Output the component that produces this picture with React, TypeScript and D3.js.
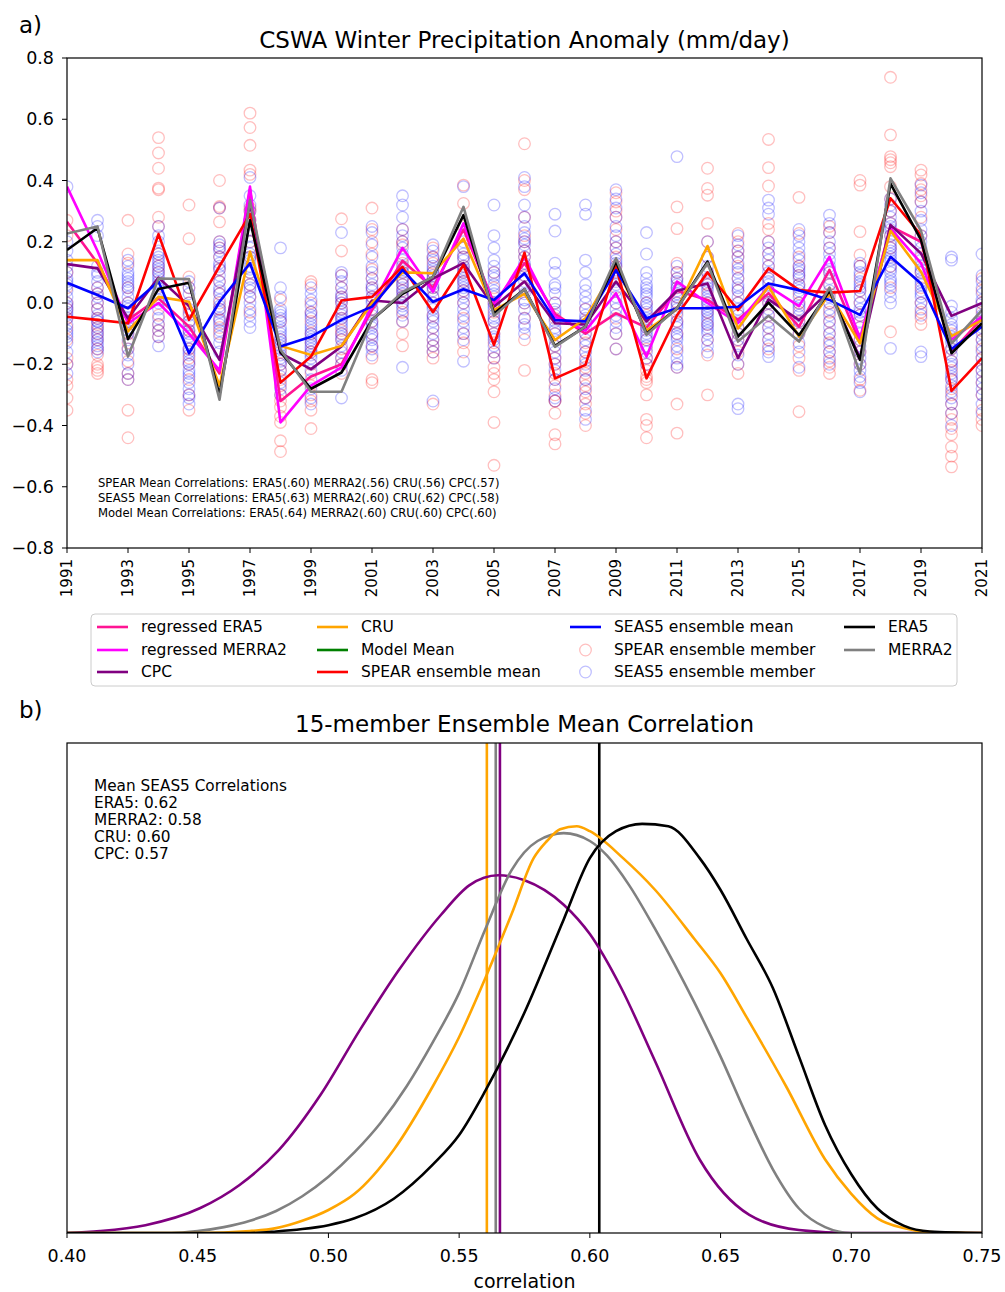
import React from "react";
import * as d3 from "d3";

// ---------- Panel a data ----------
const years = [1991, 1992, 1993, 1994, 1995, 1996, 1997, 1998, 1999, 2000, 2001, 2002, 2003, 2004, 2005, 2006, 2007, 2008, 2009, 2010, 2011, 2012, 2013, 2014, 2015, 2016, 2017, 2018, 2019, 2020, 2021];
const yearTicks = [1991, 1993, 1995, 1997, 1999, 2001, 2003, 2005, 2007, 2009, 2011, 2013, 2015, 2017, 2019, 2021];
const anomalyTicks = [0.8, 0.6, 0.4, 0.2, 0.0, -0.2, -0.4, -0.6, -0.8];

const era5 = [0.173, 0.245, -0.118, 0.046, 0.066, -0.3, 0.27, -0.16, -0.28, -0.227, -0.055, 0.03, 0.085, 0.287, -0.034, 0.045, -0.14, -0.077, 0.135, -0.1, -0.017, 0.135, -0.11, 0.001, -0.105, 0.04, -0.186, 0.39, 0.206, -0.164, -0.066];
const merra2 = [0.227, 0.25, -0.175, 0.08, 0.078, -0.316, 0.336, -0.153, -0.29, -0.29, -0.055, 0.035, 0.085, 0.314, -0.042, 0.045, -0.143, -0.077, 0.146, -0.104, -0.017, 0.13, -0.126, -0.042, -0.126, 0.05, -0.23, 0.407, 0.236, -0.132, -0.023];
const cru = [0.14, 0.14, -0.093, 0.02, 0.004, -0.27, 0.167, -0.14, -0.17, -0.14, 0.0, 0.1, 0.097, 0.21, -0.023, 0.03, -0.121, -0.05, 0.12, -0.09, -0.02, 0.186, -0.083, 0.054, -0.11, 0.03, -0.132, 0.236, 0.102, -0.108, -0.056];
const cpc = [0.127, 0.113, -0.05, 0.083, -0.01, -0.186, 0.325, -0.164, -0.216, -0.142, 0.008, 0.0, 0.08, 0.13, -0.012, 0.07, -0.066, -0.07, 0.07, -0.06, 0.04, 0.064, -0.18, 0.012, -0.056, 0.04, -0.18, 0.255, 0.162, -0.042, 0.0];
const regEra5 = [0.265, 0.13, -0.055, 0.015, -0.077, -0.23, 0.37, -0.32, -0.24, -0.2, -0.023, 0.138, 0.05, 0.24, 0.0, 0.13, -0.035, -0.1, -0.034, -0.08, 0.04, 0.01, -0.055, 0.032, -0.077, 0.108, -0.13, 0.25, 0.2, -0.16, -0.05];
const regMerra2 = [0.38, 0.17, -0.066, 0.0, -0.1, -0.22, 0.38, -0.39, -0.27, -0.21, -0.01, 0.18, 0.037, 0.26, -0.01, 0.15, -0.045, -0.09, 0.032, -0.175, 0.07, 0.0, -0.066, 0.054, -0.01, 0.151, -0.115, 0.244, 0.13, -0.12, -0.045];
const spearMean = [-0.045, -0.055, -0.066, 0.225, -0.055, 0.12, 0.29, -0.26, -0.175, 0.008, 0.02, 0.118, -0.03, 0.124, -0.137, 0.164, -0.246, -0.202, 0.119, -0.246, -0.04, 0.1, -0.023, 0.113, 0.042, 0.034, 0.039, 0.342, 0.222, -0.287, -0.18];
const seas5Mean = [0.066, 0.026, -0.017, 0.07, -0.164, 0.004, 0.13, -0.142, -0.11, -0.055, -0.012, 0.108, 0.004, 0.045, 0.01, 0.097, -0.056, -0.06, 0.107, -0.05, -0.017, -0.017, -0.012, 0.064, 0.042, 0.01, -0.039, 0.151, 0.064, -0.15, -0.077];

const spearMembers = [
  [0.27, 0.22, 0.05, 0.0, -0.02, -0.05, -0.08, -0.12, -0.18, -0.2, -0.25, -0.27, -0.31, -0.35, 0.1],
  [0.03, -0.02, -0.05, -0.07, -0.1, -0.12, -0.15, -0.17, -0.2, -0.21, -0.22, -0.23, 0.0, -0.08, 0.05],
  [0.27, 0.16, 0.13, 0.05, 0.0, -0.03, -0.06, -0.1, -0.13, -0.15, -0.19, -0.23, -0.25, -0.35, -0.44],
  [0.54, 0.49, 0.44, 0.375, 0.37, 0.28, 0.25, 0.16, 0.12, 0.1, 0.02, -0.04, -0.07, -0.09, -0.11],
  [0.32, 0.21, 0.085, 0.05, 0.0, -0.03, -0.06, -0.09, -0.12, -0.15, -0.18, -0.2, -0.25, -0.3, -0.35],
  [0.4, 0.315, 0.31, 0.265, 0.2, 0.15, 0.11, 0.07, 0.03, -0.02, -0.055, -0.08, -0.1, 0.18, 0.0],
  [0.62, 0.573, 0.515, 0.434, 0.42, 0.31, 0.3, 0.27, 0.24, 0.2, 0.15, 0.1, 0.06, 0.02, -0.03],
  [0.01, -0.06, -0.12, -0.16, -0.2, -0.22, -0.25, -0.27, -0.3, -0.32, -0.34, -0.37, -0.39, -0.45, -0.485],
  [0.07, 0.06, 0.0, -0.03, -0.06, -0.1, -0.13, -0.16, -0.2, -0.23, -0.27, -0.3, -0.32, -0.35, -0.41],
  [0.275, 0.17, 0.09, 0.05, 0.02, -0.02, -0.05, -0.09, -0.12, -0.15, -0.18, -0.2, -0.23, -0.1, 0.0],
  [0.31, 0.24, 0.2, 0.16, 0.11, 0.08, 0.05, 0.02, -0.02, -0.06, -0.1, -0.14, -0.18, -0.25, -0.26],
  [0.24, 0.2, 0.19, 0.15, 0.13, 0.1, 0.08, 0.06, 0.04, 0.02, 0.0, -0.03, -0.06, -0.1, -0.14],
  [0.18, 0.15, 0.13, 0.1, 0.08, 0.05, 0.02, 0.0, -0.04, -0.08, -0.12, -0.14, -0.16, -0.18, -0.33],
  [0.385, 0.325, 0.25, 0.22, 0.18, 0.15, 0.12, 0.1, 0.07, 0.04, 0.0, -0.05, -0.1, -0.13, -0.16],
  [0.1, 0.05, 0.0, -0.03, -0.06, -0.1, -0.13, -0.16, -0.18, -0.21, -0.23, -0.25, -0.29, -0.39, -0.53],
  [0.52, 0.4, 0.37, 0.28, 0.22, 0.2, 0.17, 0.15, 0.12, 0.09, 0.05, 0.0, -0.05, -0.12, -0.22],
  [0.0, -0.05, -0.1, -0.14, -0.18, -0.2, -0.23, -0.25, -0.27, -0.3, -0.32, -0.32, -0.36, -0.43, -0.46],
  [-0.02, -0.06, -0.1, -0.13, -0.16, -0.19, -0.21, -0.23, -0.25, -0.27, -0.29, -0.31, -0.33, -0.36, -0.4],
  [0.36, 0.33, 0.3, 0.28, 0.24, 0.2, 0.18, 0.15, 0.12, 0.1, 0.05, 0.0, -0.05, -0.1, -0.15],
  [0.0, -0.04, -0.08, -0.12, -0.15, -0.18, -0.2, -0.22, -0.24, -0.25, -0.26, -0.3, -0.38, -0.4, -0.44],
  [0.314, 0.243, 0.13, 0.1, 0.08, 0.05, 0.02, 0.0, -0.03, -0.06, -0.1, -0.15, -0.21, -0.33, -0.425],
  [0.44, 0.374, 0.352, 0.26, 0.2, 0.15, 0.1, 0.06, 0.03, 0.0, -0.03, -0.07, -0.12, -0.17, -0.3],
  [0.227, 0.2, 0.17, 0.15, 0.12, 0.08, 0.04, 0.0, -0.04, -0.08, -0.12, -0.16, -0.2, -0.23, -0.1],
  [0.534, 0.442, 0.382, 0.26, 0.24, 0.2, 0.16, 0.12, 0.08, 0.04, 0.0, -0.04, -0.08, -0.12, -0.15],
  [0.345, 0.227, 0.15, 0.12, 0.09, 0.06, 0.03, 0.0, -0.03, -0.06, -0.1, -0.14, -0.18, -0.22, -0.355],
  [0.25, 0.23, 0.18, 0.1, 0.06, 0.03, 0.0, -0.03, -0.06, -0.1, -0.13, -0.16, -0.19, -0.21, -0.23],
  [0.4, 0.385, 0.233, 0.157, 0.12, 0.08, 0.04, 0.0, -0.04, -0.08, -0.12, -0.16, -0.2, -0.25, -0.285],
  [0.737, 0.549, 0.478, 0.468, 0.458, 0.445, 0.38, 0.34, 0.3, 0.26, 0.22, 0.18, 0.12, 0.05, -0.094],
  [0.434, 0.418, 0.39, 0.37, 0.35, 0.33, 0.28, 0.22, 0.15, 0.1, 0.05, 0.0, -0.03, -0.05, -0.07],
  [-0.1, -0.15, -0.19, -0.22, -0.25, -0.28, -0.3, -0.33, -0.36, -0.38, -0.41, -0.43, -0.47, -0.5, -0.535],
  [0.08, 0.04, 0.0, -0.03, -0.06, -0.09, -0.12, -0.15, -0.18, -0.22, -0.26, -0.3, -0.35, -0.38, -0.4],
];

const seas5Members = [
  [0.38, 0.2, 0.17, 0.12, 0.1, 0.08, 0.06, 0.04, 0.02, 0.0, -0.02, -0.03, -0.05, -0.07, -0.09, -0.1, -0.13, -0.16, -0.2, -0.23, 0.14, 0.07, -0.01, -0.04, -0.11],
  [0.27, 0.25, 0.22, 0.12, 0.1, 0.09, 0.07, 0.05, 0.03, 0.02, 0.0, -0.02, -0.04, -0.05, -0.06, -0.08, -0.09, -0.1, -0.11, -0.12, -0.13, -0.14, -0.15, -0.16, -0.06],
  [0.14, 0.12, 0.1, 0.09, 0.08, 0.06, 0.05, 0.04, 0.02, 0.0, -0.01, -0.03, -0.05, -0.06, -0.08, -0.1, -0.12, -0.15, -0.17, -0.2, -0.23, -0.25, 0.07, -0.02, -0.09],
  [0.25, 0.22, 0.2, 0.17, 0.16, 0.15, 0.14, 0.13, 0.12, 0.11, 0.1, 0.09, 0.08, 0.07, 0.06, 0.05, 0.03, 0.01, -0.02, -0.05, -0.07, -0.09, -0.11, -0.14, 0.0],
  [0.07, 0.05, 0.03, 0.0, -0.02, -0.04, -0.07, -0.09, -0.11, -0.13, -0.15, -0.17, -0.19, -0.2, -0.22, -0.24, -0.26, -0.28, -0.3, -0.31, -0.33, -0.1, -0.16, -0.23, -0.06],
  [0.31, 0.2, 0.19, 0.18, 0.17, 0.15, 0.13, 0.11, 0.09, 0.07, 0.05, 0.03, 0.01, -0.01, -0.03, -0.05, -0.07, -0.09, -0.11, -0.13, -0.16, 0.12, -0.02, 0.04, -0.06],
  [0.41, 0.35, 0.32, 0.3, 0.27, 0.24, 0.22, 0.2, 0.18, 0.16, 0.14, 0.12, 0.1, 0.08, 0.06, 0.04, 0.02, 0.0, -0.02, -0.04, -0.06, -0.08, 0.15, 0.05, 0.11],
  [0.18, 0.05, 0.02, -0.02, -0.04, -0.06, -0.08, -0.1, -0.11, -0.13, -0.15, -0.17, -0.19, -0.2, -0.22, -0.24, -0.26, -0.28, -0.3, -0.12, -0.05, -0.14, -0.09, -0.18, -0.03],
  [0.05, 0.03, 0.01, -0.01, -0.03, -0.05, -0.07, -0.09, -0.1, -0.11, -0.12, -0.13, -0.14, -0.16, -0.18, -0.2, -0.22, -0.25, -0.28, -0.31, -0.33, -0.08, -0.15, -0.04, -0.17],
  [0.23, 0.1, 0.09, 0.07, 0.05, 0.03, 0.02, 0.0, -0.02, -0.03, -0.05, -0.07, -0.08, -0.1, -0.12, -0.14, -0.16, -0.18, -0.2, -0.22, -0.31, -0.04, -0.11, 0.01, -0.06],
  [0.25, 0.23, 0.19, 0.15, 0.12, 0.1, 0.08, 0.06, 0.04, 0.02, 0.0, -0.02, -0.04, -0.06, -0.08, -0.1, -0.12, -0.14, -0.15, -0.17, 0.05, 0.01, -0.03, -0.07, -0.11],
  [0.35, 0.32, 0.28, 0.24, 0.22, 0.2, 0.18, 0.16, 0.14, 0.12, 0.1, 0.08, 0.07, 0.06, 0.05, 0.04, 0.02, 0.0, -0.02, -0.04, -0.06, -0.21, 0.11, 0.03, -0.01],
  [0.19, 0.17, 0.15, 0.14, 0.12, 0.1, 0.09, 0.08, 0.06, 0.04, 0.02, 0.0, -0.02, -0.04, -0.06, -0.08, -0.1, -0.12, -0.14, -0.16, -0.32, 0.05, -0.01, 0.11, -0.05],
  [0.38, 0.2, 0.18, 0.16, 0.15, 0.14, 0.12, 0.11, 0.1, 0.08, 0.07, 0.06, 0.05, 0.03, 0.02, 0.0, -0.02, -0.04, -0.06, -0.08, -0.1, -0.12, -0.19, 0.09, 0.04],
  [0.32, 0.22, 0.18, 0.14, 0.12, 0.1, 0.08, 0.06, 0.04, 0.02, 0.0, -0.02, -0.04, -0.06, -0.08, -0.1, -0.12, -0.14, -0.16, -0.18, 0.09, 0.03, -0.01, -0.05, -0.11],
  [0.41, 0.38, 0.32, 0.28, 0.25, 0.23, 0.21, 0.19, 0.17, 0.15, 0.13, 0.11, 0.09, 0.07, 0.05, 0.03, 0.01, -0.02, -0.05, -0.08, -0.1, 0.2, 0.12, 0.0, -0.07],
  [0.29, 0.235, 0.13, 0.1, 0.06, 0.03, 0.0, -0.02, -0.04, -0.06, -0.08, -0.1, -0.12, -0.14, -0.16, -0.18, -0.2, -0.22, -0.25, -0.28, -0.31, -0.32, 0.05, -0.03, -0.09],
  [0.32, 0.29, 0.14, 0.1, 0.06, 0.04, 0.02, 0.0, -0.02, -0.04, -0.06, -0.08, -0.1, -0.12, -0.14, -0.16, -0.18, -0.2, -0.22, -0.25, -0.28, -0.31, -0.35, -0.38, -0.05],
  [0.37, 0.34, 0.31, 0.28, 0.25, 0.22, 0.2, 0.18, 0.16, 0.14, 0.12, 0.1, 0.08, 0.06, 0.04, 0.02, 0.0, -0.02, -0.04, -0.06, -0.08, -0.1, -0.15, 0.13, 0.07],
  [0.23, 0.16, 0.1, 0.08, 0.06, 0.04, 0.02, 0.0, -0.02, -0.03, -0.05, -0.06, -0.08, -0.09, -0.1, -0.12, -0.14, -0.16, -0.18, -0.2, -0.01, 0.03, -0.07, -0.11, 0.05],
  [0.478, 0.12, 0.1, 0.08, 0.07, 0.06, 0.04, 0.02, 0.0, -0.02, -0.04, -0.06, -0.08, -0.1, -0.12, -0.14, -0.16, -0.18, -0.2, -0.21, 0.05, -0.01, -0.07, 0.03, -0.11],
  [0.2, 0.15, 0.12, 0.1, 0.08, 0.06, 0.05, 0.04, 0.02, 0.0, -0.01, -0.02, -0.04, -0.05, -0.06, -0.08, -0.09, -0.1, -0.12, -0.14, -0.16, 0.07, 0.01, -0.03, -0.07],
  [0.22, 0.19, 0.17, 0.15, 0.13, 0.11, 0.1, 0.08, 0.06, 0.04, 0.02, 0.0, -0.02, -0.04, -0.06, -0.08, -0.1, -0.12, -0.14, -0.17, -0.2, -0.33, -0.345, 0.05, -0.03],
  [0.336, 0.31, 0.29, 0.2, 0.18, 0.16, 0.14, 0.12, 0.1, 0.08, 0.06, 0.04, 0.02, 0.0, -0.02, -0.04, -0.06, -0.08, -0.1, -0.12, -0.14, -0.16, -0.175, 0.07, 0.03],
  [0.24, 0.22, 0.2, 0.18, 0.16, 0.14, 0.12, 0.1, 0.08, 0.06, 0.04, 0.02, 0.0, -0.02, -0.04, -0.06, -0.08, -0.1, -0.13, -0.16, -0.21, 0.11, 0.05, -0.01, 0.09],
  [0.287, 0.26, 0.23, 0.2, 0.18, 0.16, 0.14, 0.12, 0.1, 0.08, 0.06, 0.04, 0.02, 0.0, -0.02, -0.04, -0.06, -0.08, -0.1, -0.12, -0.14, -0.16, -0.18, -0.2, 0.11],
  [0.13, 0.12, 0.1, 0.09, 0.07, 0.05, 0.04, 0.02, 0.0, -0.02, -0.04, -0.06, -0.08, -0.1, -0.12, -0.14, -0.16, -0.18, -0.2, -0.22, -0.24, -0.26, -0.29, 0.06, -0.03],
  [0.34, 0.32, 0.3, 0.28, 0.26, 0.24, 0.22, 0.2, 0.19, 0.18, 0.16, 0.14, 0.12, 0.1, 0.08, 0.06, 0.04, 0.02, 0.0, -0.148, 0.15, 0.11, 0.25, 0.17, 0.07],
  [0.385, 0.36, 0.33, 0.3, 0.27, 0.24, 0.22, 0.2, 0.18, 0.16, 0.14, 0.12, 0.1, 0.08, 0.06, 0.04, 0.02, 0.0, -0.02, -0.04, -0.16, -0.175, 0.11, 0.07, 0.03],
  [0.15, 0.14, -0.01, -0.03, -0.05, -0.07, -0.09, -0.11, -0.13, -0.15, -0.17, -0.19, -0.21, -0.23, -0.25, -0.27, -0.29, -0.31, -0.33, -0.36, -0.4, -0.12, -0.2, -0.24, -0.08],
  [0.16, 0.09, 0.07, 0.05, 0.03, 0.01, 0.0, -0.02, -0.04, -0.06, -0.08, -0.1, -0.12, -0.14, -0.16, -0.18, -0.2, -0.22, -0.24, -0.26, -0.28, -0.3, -0.33, -0.36, -0.05],
];

const corrNotes = [
  "SPEAR Mean Correlations: ERA5(.60) MERRA2(.56) CRU(.56) CPC(.57)",
  "SEAS5 Mean Correlations: ERA5(.63) MERRA2(.60) CRU(.62) CPC(.58)",
  "Model Mean Correlations: ERA5(.64) MERRA2(.60) CRU(.60) CPC(.60)",
];

// ---------- Panel b data ----------
const corrTicks = [0.4, 0.45, 0.5, 0.55, 0.6, 0.65, 0.7, 0.75];
const cpcCorr = [0.4, 0.4126, 0.43, 0.451, 0.466, 0.481, 0.497, 0.512, 0.527, 0.543, 0.554, 0.565, 0.575, 0.59, 0.6, 0.612, 0.625, 0.642, 0.661, 0.68, 0.7, 0.75];
const cpcDens = [0, 0.004, 0.016, 0.051, 0.098, 0.169, 0.282, 0.414, 0.537, 0.649, 0.71, 0.73, 0.72, 0.67, 0.61, 0.5, 0.35, 0.15, 0.037, 0.006, 0.0, 0];
const merraCorr = [0.4, 0.44, 0.45, 0.46, 0.47, 0.48, 0.49, 0.5, 0.51, 0.52, 0.53, 0.54, 0.55, 0.56, 0.57, 0.58, 0.59, 0.6, 0.6066, 0.615, 0.625, 0.64, 0.65, 0.66, 0.67, 0.68, 0.69, 0.7, 0.75];
const merraDens = [0, 0.0, 0.004, 0.012, 0.025, 0.045, 0.075, 0.115, 0.165, 0.225, 0.3, 0.39, 0.49, 0.62, 0.74, 0.8, 0.816, 0.8, 0.77, 0.71, 0.62, 0.47, 0.36, 0.24, 0.13, 0.05, 0.012, 0.0, 0];
const cruCorr = [0.4, 0.45, 0.47, 0.48, 0.49, 0.5, 0.51, 0.525, 0.54, 0.55, 0.56, 0.57, 0.5785, 0.5836, 0.5886, 0.595, 0.6, 0.6127, 0.625, 0.64, 0.65, 0.66, 0.675, 0.69, 0.7, 0.71, 0.72, 0.73, 0.75];
const cruDens = [0, 0, 0.004, 0.01, 0.025, 0.047, 0.08, 0.17, 0.3, 0.4, 0.52, 0.65, 0.765, 0.8, 0.824, 0.83, 0.82, 0.765, 0.7, 0.6, 0.53, 0.44, 0.3, 0.15, 0.08, 0.03, 0.01, 0.002, 0];
const era5Corr = [0.4, 0.47, 0.48, 0.49, 0.5, 0.51, 0.525, 0.54, 0.55, 0.56, 0.575, 0.59, 0.6, 0.61, 0.62, 0.63, 0.642, 0.65, 0.66, 0.67, 0.68, 0.69, 0.7, 0.71, 0.72, 0.73, 0.75];
const era5Dens = [0, 0, 0.003, 0.008, 0.016, 0.03, 0.07, 0.14, 0.2, 0.29, 0.45, 0.64, 0.765, 0.82, 0.835, 0.83, 0.765, 0.7, 0.6, 0.5, 0.36, 0.22, 0.12, 0.05, 0.015, 0.003, 0];
const meanLines = [
  { name: "CRU", value: 0.5606, color: "#ffa500" },
  { name: "MERRA2", value: 0.564, color: "#808080" },
  { name: "CPC", value: 0.5656, color: "#800080" },
  { name: "ERA5", value: 0.6036, color: "#000000" },
];
const seas5Notes = ["Mean SEAS5 Correlations", "ERA5: 0.62", "MERRA2: 0.58", "CRU: 0.60", "CPC: 0.57"];

const FONT = "'DejaVu Sans', sans-serif";
const fmtTick = (t: number) => (t < 0 ? "\u2212" + Math.abs(t).toFixed(1) : t.toFixed(1));

export default function App() {
  const W = 1005, H = 1292;
  // panel a
  const aL = 67, aR = 982, aT = 58, aB = 548;
  const x = d3.scaleLinear().domain([1991, 2021]).range([aL, aR]);
  const y = d3.scaleLinear().domain([-0.8, 0.8]).range([aB, aT]);
  const lineGen = (vals: number[]) =>
    d3.line<number>().x((_, i) => x(years[i])).y((v) => y(v))(vals) || "";

  const seriesLines = [
    { vals: regEra5, color: "#ff1493" },
    { vals: regMerra2, color: "#ff00ff" },
    { vals: cpc, color: "#800080" },
    { vals: cru, color: "#ffa500" },
    { vals: spearMean, color: "#ff0000" },
    { vals: seas5Mean, color: "#0000ff" },
    { vals: era5, color: "#000000" },
    { vals: merra2, color: "#808080" },
  ];

  // panel b
  const bL = 67, bR = 982, bT = 743, bB = 1233;
  const cx = d3.scaleLinear().domain([0.4, 0.75]).range([bL, bR]);
  const cy = d3.scaleLinear().domain([0, 1]).range([bB, bT]);
  const dens = (xs: number[], ds: number[]) =>
    d3.line<number>().x((v) => cx(v)).y((_, i) => cy(ds[i])).curve(d3.curveMonotoneX)(xs) || "";
  const densCurves = [
    { xs: cpcCorr, ds: cpcDens, color: "#800080" },
    { xs: merraCorr, ds: merraDens, color: "#808080" },
    { xs: cruCorr, ds: cruDens, color: "#ffa500" },
    { xs: era5Corr, ds: era5Dens, color: "#000000" },
  ];

  const legendCols = [
    [
      { label: "regressed ERA5", color: "#ff1493", kind: "line" },
      { label: "regressed MERRA2", color: "#ff00ff", kind: "line" },
      { label: "CPC", color: "#800080", kind: "line" },
    ],
    [
      { label: "CRU", color: "#ffa500", kind: "line" },
      { label: "Model Mean", color: "#008000", kind: "line" },
      { label: "SPEAR ensemble mean", color: "#ff0000", kind: "line" },
    ],
    [
      { label: "SEAS5 ensemble mean", color: "#0000ff", kind: "line" },
      { label: "SPEAR ensemble member", color: "rgba(255,0,0,0.25)", kind: "circle" },
      { label: "SEAS5 ensemble member", color: "rgba(0,0,255,0.25)", kind: "circle" },
    ],
    [
      { label: "ERA5", color: "#000000", kind: "line" },
      { label: "MERRA2", color: "#808080", kind: "line" },
    ],
  ];
  const colX = [97, 317, 570, 844];
  const rowY = [627, 650, 672];

  return (
    <svg width={W} height={H} style={{ position: "absolute", left: 0, top: 0, background: "#fff" }} fontFamily={FONT}>
      <rect x={0} y={0} width={W} height={H} fill="#fff" />
      <defs>
        <clipPath id="clipA">
          <rect x={aL} y={aT} width={aR - aL} height={aB - aT} />
        </clipPath>
        <clipPath id="clipB">
          <rect x={bL} y={bT} width={bR - bL} height={bB - bT} />
        </clipPath>
      </defs>

      {/* ---------- Panel a ---------- */}
      <text x={19} y={33} fontSize={23} fill="#000">a)</text>
      <text x={(aL + aR) / 2} y={48} fontSize={23} textAnchor="middle" fill="#000">
        CSWA Winter Precipitation Anomaly (mm/day)
      </text>
      <g clipPath="url(#clipA)">
        {spearMembers.map((arr, i) =>
          arr.map((v, j) => (
            <circle key={`s${i}-${j}`} cx={x(years[i])} cy={y(v)} r={5.8} fill="none" stroke="rgba(255,0,0,0.25)" strokeWidth={1.3} />
          ))
        )}
        {seas5Members.map((arr, i) =>
          arr.map((v, j) => (
            <circle key={`e${i}-${j}`} cx={x(years[i])} cy={y(v)} r={5.8} fill="none" stroke="rgba(0,0,255,0.25)" strokeWidth={1.3} />
          ))
        )}
        {seriesLines.map((s, i) => (
          <path key={i} d={lineGen(s.vals)} fill="none" stroke={s.color} strokeWidth={2.6} strokeLinejoin="round" />
        ))}
      </g>
      <rect x={aL} y={aT} width={aR - aL} height={aB - aT} fill="none" stroke="#000" strokeWidth={1.2} />
      {anomalyTicks.map((t) => (
        <g key={t}>
          <line x1={aL - 5} x2={aL} y1={y(t)} y2={y(t)} stroke="#000" strokeWidth={1} />
          <text x={aL - 13} y={y(t)} dy="0.35em" fontSize={17.5} textAnchor="end" fill="#000">
            {fmtTick(t)}
          </text>
        </g>
      ))}
      {yearTicks.map((t) => (
        <g key={t}>
          <line x1={x(t)} x2={x(t)} y1={aB} y2={aB + 5} stroke="#000" strokeWidth={1} />
          <text transform={`translate(${x(t)},${aB + 11}) rotate(-90)`} dy="0.35em" fontSize={15} textAnchor="end" fill="#000">
            {t}
          </text>
        </g>
      ))}
      {corrNotes.map((s, i) => (
        <text key={i} x={98} y={487 + i * 15} fontSize={11.6} fill="#000">{s}</text>
      ))}

      {/* legend */}
      <rect x={91} y={614} width={866} height={72} rx={4} fill="#fff" fillOpacity={0.8} stroke="#cccccc" strokeWidth={1} />
      {legendCols.map((col, ci) =>
        col.map((item, ri) => (
          <g key={`${ci}-${ri}`}>
            {item.kind === "line" ? (
              <line x1={colX[ci]} x2={colX[ci] + 31} y1={rowY[ri]} y2={rowY[ri]} stroke={item.color} strokeWidth={2.6} />
            ) : (
              <circle cx={colX[ci] + 15.5} cy={rowY[ri]} r={5.8} fill="none" stroke={item.color} strokeWidth={1.3} />
            )}
            <text x={colX[ci] + 44} y={rowY[ri]} dy="0.35em" fontSize={15.5} fill="#000">{item.label}</text>
          </g>
        ))
      )}

      {/* ---------- Panel b ---------- */}
      <text x={19} y={718} fontSize={23} fill="#000">b)</text>
      <text x={(bL + bR) / 2} y={732} fontSize={23} textAnchor="middle" fill="#000">
        15-member Ensemble Mean Correlation
      </text>
      <g clipPath="url(#clipB)">
        {meanLines.map((m) => (
          <line key={m.name} x1={cx(m.value)} x2={cx(m.value)} y1={bT} y2={bB} stroke={m.color} strokeWidth={2.6} />
        ))}
        {densCurves.map((c, i) => (
          <path key={i} d={dens(c.xs, c.ds)} fill="none" stroke={c.color} strokeWidth={2.6} strokeLinejoin="round" />
        ))}
      </g>
      <rect x={bL} y={bT} width={bR - bL} height={bB - bT} fill="none" stroke="#000" strokeWidth={1.2} />
      {corrTicks.map((t) => (
        <g key={t}>
          <line x1={cx(t)} x2={cx(t)} y1={bB} y2={bB + 5} stroke="#000" strokeWidth={1} />
          <text x={cx(t)} y={1262} fontSize={17.5} textAnchor="middle" fill="#000">
            {t.toFixed(2)}
          </text>
        </g>
      ))}
      <text x={(bL + bR) / 2} y={1288} fontSize={19} textAnchor="middle" fill="#000">correlation</text>
      {seas5Notes.map((s, i) => (
        <text key={i} x={94} y={791 + i * 17} fontSize={15.3} fill="#000">{s}</text>
      ))}
    </svg>
  );
}
